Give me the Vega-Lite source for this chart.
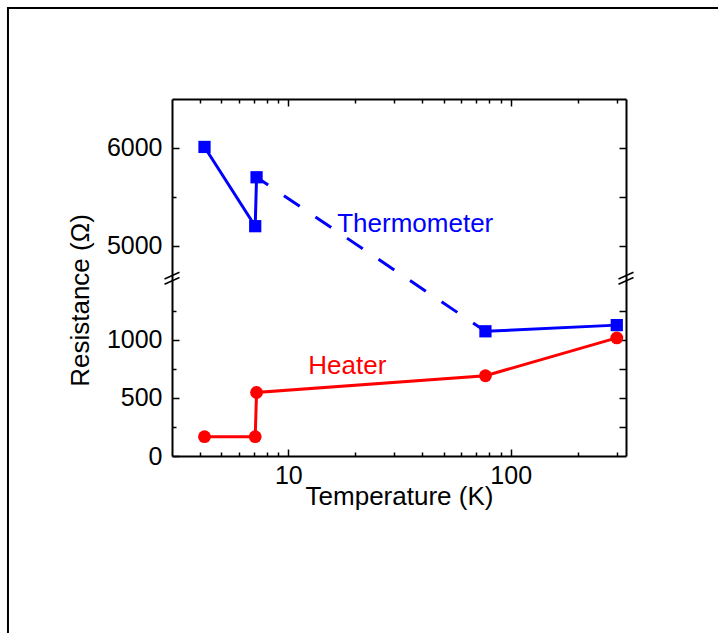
{
  "$schema": "https://vega.github.io/schema/vega-lite/v6.json",
  "width": 454,
  "height": 357,
  "autosize": {"type": "none"},
  "padding": {"left": 172, "top": 99, "right": 92, "bottom": 177},
  "background": "white",
  "config": {
    "view": {"stroke": null},
    "font": "Liberation Sans",
    "axis": {
      "domainColor": "#000000",
      "domainWidth": 2,
      "tickColor": "#000000",
      "tickWidth": 1.5,
      "labelColor": "#000000",
      "titleColor": "#000000",
      "labelFont": "Liberation Sans",
      "titleFont": "Liberation Sans",
      "labelFontSize": 25,
      "titleFontSize": 26,
      "titleFontWeight": "normal",
      "grid": false,
      "labelOverlap": false,
      "labelFlush": false
    }
  },
  "datasets": {
    "readings": [
      {"sensor": "Thermometer", "T": 4.2, "R": 6010},
      {"sensor": "Thermometer", "T": 7.1, "R": 5200},
      {"sensor": "Thermometer", "T": 7.2, "R": 5700},
      {"sensor": "Thermometer", "T": 77, "R": 1072},
      {"sensor": "Thermometer", "T": 300, "R": 1125},
      {"sensor": "Heater", "T": 4.2, "R": 166},
      {"sensor": "Heater", "T": 7.1, "R": 166},
      {"sensor": "Heater", "T": 7.2, "R": 546},
      {"sensor": "Heater", "T": 77, "R": 690},
      {"sensor": "Heater", "T": 300, "R": 1015}
    ],
    "traces": [
      {"sensor": "Thermometer", "run": "a", "T": 4.2, "R": 6010},
      {"sensor": "Thermometer", "run": "a", "T": 7.1, "R": 5200},
      {"sensor": "Thermometer", "run": "a", "T": 7.2, "R": 5700},
      {"sensor": "Thermometer", "run": "b", "T": 7.2, "R": 5700},
      {"sensor": "Thermometer", "run": "b", "T": 77, "R": 1072},
      {"sensor": "Thermometer", "run": "c", "T": 77, "R": 1072},
      {"sensor": "Thermometer", "run": "c", "T": 300, "R": 1125},
      {"sensor": "Heater", "run": "h", "T": 4.2, "R": 166},
      {"sensor": "Heater", "run": "h", "T": 7.1, "R": 166},
      {"sensor": "Heater", "run": "h", "T": 7.2, "R": 546},
      {"sensor": "Heater", "run": "h", "T": 77, "R": 690},
      {"sensor": "Heater", "run": "h", "T": 300, "R": 1015}
    ]
  },
  "resolve": {"axis": {"x": "independent", "y": "independent"}},
  "layer": [
    {
      "data": {"name": "traces"},
      "transform": [{"filter": "datum.sensor === 'Heater'"}],
      "mark": {"type": "line", "color": "#ff0000", "strokeWidth": 3},
      "encoding": {
        "x": {"field": "T", "type": "quantitative",
          "scale": {"type": "log", "domain": [3, 330], "nice": false},
          "axis": {"orient": "bottom", "values": [10, 100], "format": "d", "tickSize": -7, "labelPadding": 14, "title": "Temperature (K)", "titlePadding": -5}},
        "y": {"field": "R", "type": "quantitative",
          "scale": {"type": "linear", "domain": [0, 1500, 4700, 6500], "range": [357, 182.5, 176.1, 0], "nice": false, "zero": false},
          "axis": {"orient": "left", "values": [0, 500, 1000, 5000, 6000], "format": "d", "tickSize": -7, "labelPadding": 17, "title": "Resistance (Ω)", "titleY": 201, "titlePadding": 13}},
        "order": {"field": "T", "type": "quantitative"}
      }
    },
    {
      "data": {"name": "readings"},
      "transform": [{"filter": "datum.sensor === 'Heater'"}],
      "mark": {"type": "point", "shape": "circle", "filled": true, "color": "#ff0000", "size": 165, "opacity": 1},
      "encoding": {
        "x": {"field": "T", "type": "quantitative",
          "scale": {"type": "log", "domain": [3, 330], "nice": false},
          "axis": {"orient": "bottom", "values": [4, 5, 6, 7, 8, 9, 20, 30, 40, 50, 60, 70, 80, 90, 200, 300], "tickSize": -4, "labels": false, "domain": false, "title": null}},
        "y": {"field": "R", "type": "quantitative",
          "scale": {"type": "linear", "domain": [0, 1500, 4700, 6500], "range": [357, 182.5, 176.1, 0], "nice": false, "zero": false},
          "axis": {"orient": "left", "values": [250, 750, 1250, 5500], "tickSize": -4, "labels": false, "domain": false, "title": null}}
      }
    },
    {
      "data": {"name": "traces"},
      "transform": [{"filter": "datum.sensor === 'Thermometer' && datum.run !== 'b'"}],
      "mark": {"type": "line", "color": "#0000ff", "strokeWidth": 3},
      "encoding": {
        "x": {"field": "T", "type": "quantitative",
          "scale": {"type": "log", "domain": [3, 330], "nice": false},
          "axis": {"orient": "top", "values": [10, 100], "tickSize": -7, "labels": false, "title": null}},
        "y": {"field": "R", "type": "quantitative",
          "scale": {"type": "linear", "domain": [0, 1500, 4700, 6500], "range": [357, 182.5, 176.1, 0], "nice": false, "zero": false},
          "axis": {"orient": "right", "values": [250, 500, 750, 1000, 1250, 5000, 5500, 6000], "tickSize": -7, "labels": false, "title": null}},
        "detail": {"field": "run"},
        "order": {"field": "T", "type": "quantitative"}
      }
    },
    {
      "data": {"name": "traces"},
      "transform": [{"filter": "datum.run === 'b'"}],
      "mark": {"type": "line", "color": "#0000ff", "strokeWidth": 3, "strokeDash": [19, 19], "strokeDashOffset": 5, "strokeCap": "butt"},
      "encoding": {
        "x": {"field": "T", "type": "quantitative",
          "scale": {"type": "log", "domain": [3, 330], "nice": false},
          "axis": {"orient": "top", "values": [4, 5, 6, 7, 8, 9, 20, 30, 40, 50, 60, 70, 80, 90, 200, 300], "tickSize": -4, "labels": false, "domain": false, "title": null}},
        "y": {"field": "R", "type": "quantitative",
          "scale": {"type": "linear", "domain": [0, 1500, 4700, 6500], "range": [357, 182.5, 176.1, 0], "nice": false, "zero": false},
          "axis": null},
        "order": {"field": "T", "type": "quantitative"}
      }
    },
    {
      "data": {"name": "readings"},
      "transform": [{"filter": "datum.sensor === 'Thermometer'"}],
      "mark": {"type": "point", "shape": "square", "filled": true, "color": "#0000ff", "size": 150, "opacity": 1},
      "encoding": {
        "x": {"field": "T", "type": "quantitative", "scale": {"type": "log", "domain": [3, 330], "nice": false}, "axis": null},
        "y": {"field": "R", "type": "quantitative", "scale": {"type": "linear", "domain": [0, 1500, 4700, 6500], "range": [357, 182.5, 176.1, 0], "nice": false, "zero": false}, "axis": null}
      }
    },
    {
      "data": {"values": [{}]},
      "mark": {"type": "text", "text": "Thermometer", "color": "#0000ff", "font": "Liberation Sans", "fontSize": 26, "align": "left", "baseline": "alphabetic"},
      "encoding": {
        "x": {"datum": 16.6, "type": "quantitative", "scale": {"type": "log", "domain": [3, 330], "nice": false}, "axis": null},
        "y": {"datum": 5144, "type": "quantitative", "scale": {"type": "linear", "domain": [0, 1500, 4700, 6500], "range": [357, 182.5, 176.1, 0], "nice": false, "zero": false}, "axis": null}
      }
    },
    {
      "data": {"values": [{}]},
      "mark": {"type": "text", "text": "Heater", "color": "#ff0000", "font": "Liberation Sans", "fontSize": 26, "align": "left", "baseline": "alphabetic"},
      "encoding": {
        "x": {"datum": 12.3, "type": "quantitative", "scale": {"type": "log", "domain": [3, 330], "nice": false}, "axis": null},
        "y": {"datum": 702, "type": "quantitative", "scale": {"type": "linear", "domain": [0, 1500, 4700, 6500], "range": [357, 182.5, 176.1, 0], "nice": false, "zero": false}, "axis": null}
      }
    },
    {
      "data": {"values": [{}]},
      "mark": {"type": "point", "shape": "M-1,0.1L1,-0.8M-1,0.8L1,-0.1", "filled": false, "stroke": "#000000", "strokeWidth": 1.5, "size": 225, "opacity": 1},
      "encoding": {
        "x": {"datum": 3, "type": "quantitative", "scale": {"type": "log", "domain": [3, 330], "nice": false}, "axis": null},
        "y": {"datum": 3100, "type": "quantitative", "scale": {"type": "linear", "domain": [0, 1500, 4700, 6500], "range": [357, 182.5, 176.1, 0], "nice": false, "zero": false}, "axis": null}
      }
    },
    {
      "data": {"values": [{}]},
      "mark": {"type": "point", "shape": "M-1,0.1L1,-0.8M-1,0.8L1,-0.1", "filled": false, "stroke": "#000000", "strokeWidth": 1.5, "size": 225, "opacity": 1},
      "encoding": {
        "x": {"datum": 330, "type": "quantitative", "scale": {"type": "log", "domain": [3, 330], "nice": false}, "axis": null},
        "y": {"datum": 3100, "type": "quantitative", "scale": {"type": "linear", "domain": [0, 1500, 4700, 6500], "range": [357, 182.5, 176.1, 0], "nice": false, "zero": false}, "axis": null}
      }
    },
    {
      "data": {"values": [{}]},
      "mark": {"type": "rect", "fill": "#ffffff", "fillOpacity": 0, "stroke": "#000000", "strokeWidth": 2},
      "encoding": {
        "x": {"datum": 0.549, "type": "quantitative", "scale": {"type": "log", "domain": [3, 330], "nice": false}, "axis": null},
        "x2": {"datum": 10000000},
        "y": {"datum": 7430, "type": "quantitative", "scale": {"type": "linear", "domain": [0, 1500, 4700, 6500], "range": [357, 182.5, 176.1, 0], "nice": false, "zero": false}, "axis": null},
        "y2": {"datum": -1000000}
      }
    }
  ]
}
